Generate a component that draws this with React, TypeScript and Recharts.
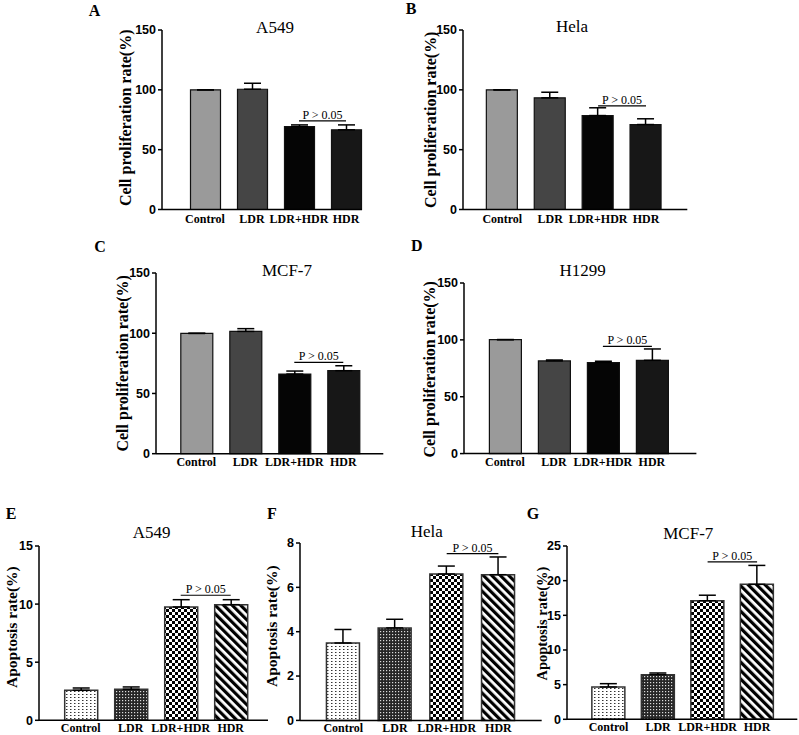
import React from 'react';
import { BarChart, Bar, XAxis, YAxis, Cell, ErrorBar, ReferenceLine, Label } from 'recharts';

const categories = ['Control', 'LDR', 'LDR+HDR', 'HDR'];

// proliferation (%), mean and upper SD
const a549Prolif = [100, 100.5, 69.3, 66.6];
const a549ProlifErr = [0, 5, 1.4, 4.1];
const helaProlif = [100, 93.3, 78.5, 71];
const helaProlifErr = [0, 4.7, 6.5, 4.8];
const mcf7Prolif = [99.9, 101.5, 66.1, 68.9];
const mcf7ProlifErr = [0, 2.3, 2.5, 4.1];
const h1299Prolif = [100.2, 81.5, 80, 82];
const h1299ProlifErr = [0, 0.8, 1.2, 10];

// apoptosis (%)
const a549Apop = [2.58, 2.67, 9.75, 9.95];
const a549ApopErr = [0.2, 0.2, 0.63, 0.43];
const helaApop = [3.49, 4.17, 6.6, 6.57];
const helaApopErr = [0.61, 0.39, 0.36, 0.8];
const mcf7Apop = [4.66, 6.44, 17.1, 19.47];
const mcf7ApopErr = [0.48, 0.24, 0.8, 2.73];

const prolifTicks = [0, 50, 100, 150];
const a549ApopTicks = [0, 5, 10, 15];
const helaApopTicks = [0, 2, 4, 6, 8];
const mcf7ApopTicks = [0, 5, 10, 15, 20, 25];

// height of the "P > 0.05" bracket, in data units
const bracketY = [74.1, 86.6, 75.8, 94.3, 10.76, 7.52, 22.7];

const SERIF = "'Liberation Serif', 'Times New Roman', serif";
const SANS = "'Liberation Sans', Arial, sans-serif";
const AXIS_W = 50;
const TOP_PAD = 12;
const X_H = 25;

const solidFills = ['#9a9a9a', '#454545', '#050505', '#171717'];
const patternNames = ['dots', 'fine', 'check', 'stripe'];

const panels = [
  { id: 'a', letter: 'A', lx: 94.5, ly: 10, title: 'A549', tx: 275, ty: 26.7, values: a549Prolif, errors: a549ProlifErr, ticks: prolifTicks, yLabel: 'Cell proliferation rate(%)', pattern: false,
    plotLeft: 162, plotTop: 29.5, plotBottom: 209, c0: 205, s: 47, bw: 30, axisEnd: 362, labDx: -37, labDy: -2, labSize: 16, xMargin: 5 },
  { id: 'b', letter: 'B', lx: 411, ly: 8, title: 'Hela', tx: 572, ty: 26, values: helaProlif, errors: helaProlifErr, ticks: prolifTicks, yLabel: 'Cell proliferation rate(%)', pattern: false,
    plotLeft: 462.7, plotTop: 29.5, plotBottom: 209, c0: 502, s: 47.9, bw: 31, axisEnd: 687, labDx: -32.7, labDy: 0, labSize: 16, xMargin: 5 },
  { id: 'c', letter: 'C', lx: 100, ly: 246.7, title: 'MCF-7', tx: 287, ty: 270, values: mcf7Prolif, errors: mcf7ProlifErr, ticks: prolifTicks, yLabel: 'Cell proliferation rate(%)', pattern: false,
    plotLeft: 155.7, plotTop: 273.3, plotBottom: 454, c0: 196, s: 49, bw: 32, axisEnd: 383, labDx: -34, labDy: 0, labSize: 16, xMargin: 4 },
  { id: 'd', letter: 'D', lx: 416.7, ly: 245.3, title: 'H1299', tx: 582.7, ty: 270, values: h1299Prolif, errors: h1299ProlifErr, ticks: prolifTicks, yLabel: 'Cell proliferation rate(%)', pattern: false,
    plotLeft: 464.3, plotTop: 282.7, plotBottom: 453.3, c0: 505.2, s: 49, bw: 32, axisEnd: 696.7, labDx: -34.3, labDy: 1, labSize: 16, xMargin: 4 },
  { id: 'e', letter: 'E', lx: 11, ly: 513, title: 'A549', tx: 151.7, ty: 532.5, values: a549Apop, errors: a549ApopErr, ticks: a549ApopTicks, yLabel: 'Apoptosis rate(%)', pattern: true,
    plotLeft: 39, plotTop: 545.7, plotBottom: 720, c0: 80.7, s: 50, bw: 33, axisEnd: 268, labDx: -27.3, labDy: -6, labSize: 15.5, xMargin: 3 },
  { id: 'f', letter: 'F', lx: 272, ly: 513, title: 'Hela', tx: 426.7, ty: 531, values: helaApop, errors: helaApopErr, ticks: helaApopTicks, yLabel: 'Apoptosis rate(%)', pattern: true,
    plotLeft: 300, plotTop: 543.3, plotBottom: 720.7, c0: 343.3, s: 51.7, bw: 33, axisEnd: 541.7, labDx: -28, labDy: -5.5, labSize: 15.5, xMargin: 3 },
  { id: 'g', letter: 'G', lx: 533, ly: 513.5, title: 'MCF-7', tx: 688.3, ty: 533, values: mcf7Apop, errors: mcf7ApopErr, ticks: mcf7ApopTicks, yLabel: 'Apoptosis rate(%)', pattern: true,
    plotLeft: 566.7, plotTop: 545.7, plotBottom: 719, c0: 608.3, s: 49.5, bw: 33, axisEnd: 797, labDx: -25, labDy: -9, labSize: 14.5, xMargin: 3 },
];

const Patterns = ({ id }: { id: string }) => (
  <defs>
    <pattern id={`${id}-dots`} width="4" height="3" patternUnits="userSpaceOnUse">
      <rect width="4" height="3" fill="#fff" />
      <rect x="1" y="1" width="1.5" height="1" fill="#333" />
    </pattern>
    <pattern id={`${id}-fine`} width="3" height="3" patternUnits="userSpaceOnUse">
      <rect width="3" height="3" fill="#262626" />
      <rect x="1" y="1" width="1.2" height="1.2" fill="#ddd" />
    </pattern>
    <pattern id={`${id}-check`} width="6" height="6" patternUnits="userSpaceOnUse">
      <rect width="6" height="6" fill="#fff" />
      <rect width="3" height="3" fill="#000" />
      <rect x="3" y="3" width="3" height="3" fill="#000" />
    </pattern>
    <pattern id={`${id}-stripe`} width="6" height="6" patternUnits="userSpaceOnUse" patternTransform="rotate(-45)">
      <rect width="6" height="6" fill="#fff" />
      <rect width="3.2" height="6" fill="#000" />
    </pattern>
  </defs>
);

function Panel({ p, idx }: { p: any; idx: number }) {
  const left = p.plotLeft - AXIS_W;
  const top = p.plotTop - TOP_PAD;
  const width = p.axisEnd - left + 2;
  const height = p.plotBottom - top + X_H;
  const start = p.c0 - p.s / 2;
  const padL = start - p.plotLeft;
  const padR = p.axisEnd - (start + 4 * p.s);
  const yMax = p.ticks[p.ticks.length - 1];
  const data = categories.map((name, i) => ({ name, value: p.values[i], err: [0, p.errors[i]] }));

  const yLabel = (props: any) => {
    const vb = props.viewBox;
    const x = vb.x + vb.width + p.labDx;
    const y = vb.y + vb.height / 2 + p.labDy;
    return (
      <text x={x} y={y} transform={`rotate(-90 ${x} ${y})`} textAnchor="middle" dominantBaseline="central"
        fontFamily={SERIF} fontWeight={700} fontSize={p.labSize} fill="#000">
        {p.yLabel}
      </text>
    );
  };

  return (
    <div style={{ position: 'absolute', left, top }}>
      <BarChart width={width} height={height} data={data} barSize={p.bw}
        margin={{ top: TOP_PAD, right: 2, bottom: 0, left: 0 }}>
        <Patterns id={p.id} />
        <XAxis dataKey="name" height={X_H} interval={0} padding={{ left: padL, right: padR }}
          tickLine={false} tickSize={0} tickMargin={p.xMargin}
          axisLine={{ stroke: '#000', strokeWidth: 1.5 }}
          tick={{ fill: '#000', fontSize: 12, fontWeight: 700, fontFamily: SERIF }} />
        <YAxis width={AXIS_W} domain={[0, yMax]} ticks={p.ticks} interval={0}
          tickSize={4} tickMargin={2}
          axisLine={{ stroke: '#000', strokeWidth: 1.5 }} tickLine={{ stroke: '#000', strokeWidth: 1.5 }}
          tick={{ fill: '#000', fontSize: 12.5, fontWeight: 700, fontFamily: SANS }}>
          <Label content={yLabel} />
        </YAxis>
        <Bar dataKey="value" isAnimationActive={false}
          stroke={p.pattern ? '#333' : '#111'} strokeWidth={p.pattern ? 1.5 : 1.2}>
          {data.map((d, i) => (
            <Cell key={d.name} fill={p.pattern ? `url(#${p.id}-${patternNames[i]})` : solidFills[i]} />
          ))}
          <ErrorBar dataKey="err" direction="y" width={8.5} stroke="#000" strokeWidth={1.5} isAnimationActive={false} />
        </Bar>
        <ReferenceLine segment={[{ x: 'LDR+HDR', y: bracketY[idx] }, { x: 'HDR', y: bracketY[idx] }]}
          stroke="#000" strokeWidth={1.2}
          label={{ value: 'P > 0.05', position: 'top', offset: 2, fontSize: 12, fontFamily: SERIF, fill: '#000' }} />
      </BarChart>
    </div>
  );
}

export default function App() {
  return (
    <div style={{ position: 'absolute', left: 0, top: 0, width: 799, height: 735, background: '#fff', overflow: 'hidden' }}>
      {panels.map((p, i) => (
        <Panel key={p.id} p={p} idx={i} />
      ))}
      <svg width={799} height={735} style={{ position: 'absolute', left: 0, top: 0, pointerEvents: 'none' }}>
        {panels.map((p) => (
          <g key={p.id}>
            <text x={p.lx} y={p.ly + 5.5} textAnchor="middle" fontFamily={SERIF} fontWeight={700} fontSize={16} fill="#000">
              {p.letter}
            </text>
            <text x={p.tx} y={p.ty + 5.8} textAnchor="middle" fontFamily={SERIF} fontSize={17} fill="#000">
              {p.title}
            </text>
          </g>
        ))}
      </svg>
    </div>
  );
}
